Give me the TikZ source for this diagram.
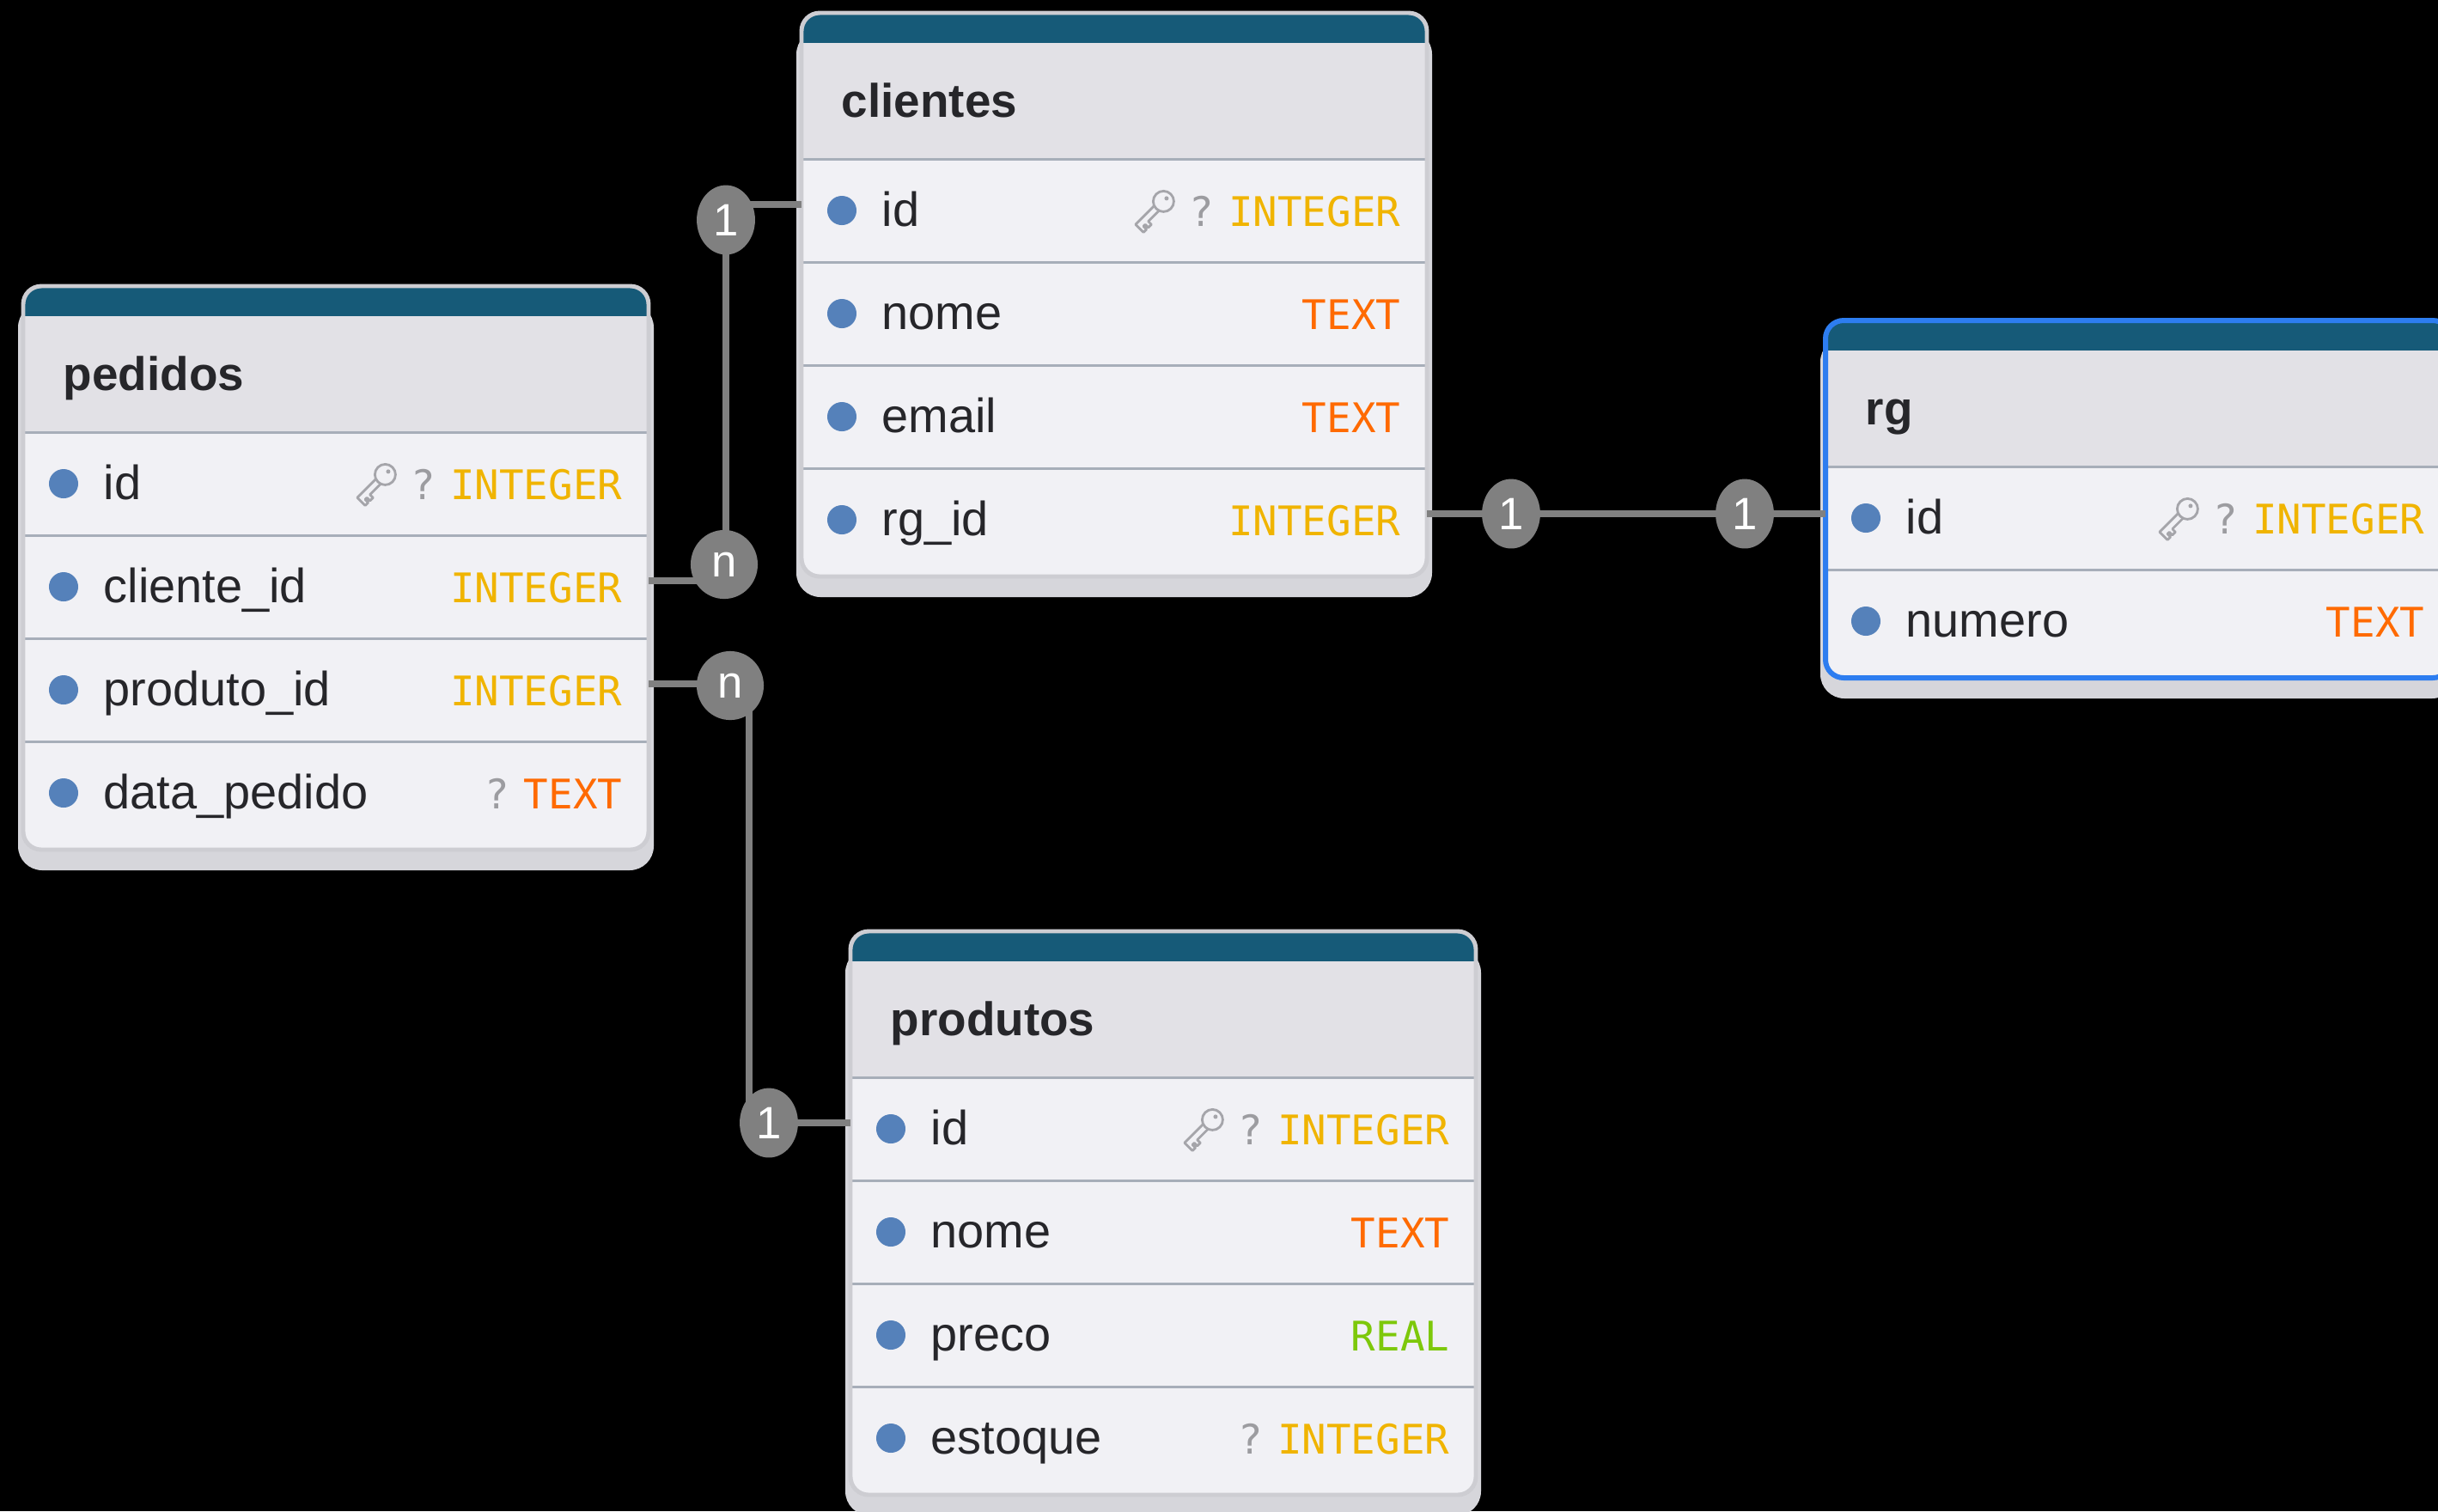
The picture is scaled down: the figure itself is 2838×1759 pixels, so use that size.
\documentclass[tikz,border=0pt]{standalone}
\usepackage{fontspec}
\setmainfont{Liberation Sans}
\newfontfamily\typefont{DejaVu Sans Mono}
\usetikzlibrary{positioning,shapes.geometric}

\definecolor{canvas}{RGB}{0,0,0}
\definecolor{headblue}{RGB}{22,90,120}
\definecolor{titlebg}{RGB}{226,225,230}
\definecolor{rowbg}{RGB}{241,241,245}
\definecolor{sepgray}{RGB}{167,174,185}
\definecolor{bordergray}{RGB}{205,205,210}
\definecolor{shadowgray}{RGB}{214,214,219}
\definecolor{textdark}{RGB}{38,38,42}
\definecolor{dotblue}{RGB}{85,129,186}
\definecolor{intyellow}{RGB}{240,180,0}
\definecolor{textorange}{RGB}{255,106,0}
\definecolor{realgreen}{RGB}{125,200,10}
\definecolor{qgray}{RGB}{156,156,160}
\definecolor{keygray}{RGB}{165,165,170}
\definecolor{linkgray}{RGB}{128,128,128}
\definecolor{selblue}{RGB}{45,125,240}

\tikzset{
  keyicon/.pic={
    \begin{scope}[rotate=225]
      \filldraw[keygray, fill=rowbg, line width=0.8pt, line join=round]
        (-4,4) -- (27,4) -- (27,-9) -- (22,-9) -- (22,-4) -- (19,-4) -- (19,-9)
        -- (14,-9) -- (14,-4) -- (-4,-4) -- cycle;
      \filldraw[keygray, fill=rowbg, line width=0.8pt] (-15,0) circle (12);
      \fill[keygray] (-20,0) circle (2.5);
    \end{scope}
  }
}

% table frame: name, left, top, rows, title
\newcommand{\erdtable}[5]{%
  \pgfmathsetmacro{\erdright}{#2+728}
  \pgfmathsetmacro{\erdbottom}{#3+176+120*#4}
  \fill[shadowgray, rounded corners=8pt] (#2-6,#3+20) rectangle (\erdright+6,\erdbottom+24);
  \fill[rowbg, rounded corners=6pt] (#2,#3) rectangle (\erdright,\erdbottom);
  \fill[headblue, rounded corners=6pt] (#2,#3) rectangle (\erdright,#3+80);
  \fill[titlebg] (#2,#3+35) rectangle (\erdright,#3+170);
  \foreach \k in {1,...,#4}
    \draw[sepgray, line width=0.85pt] (#2,#3+50+120*\k) -- (\erdright,#3+50+120*\k);
  \draw[bordergray, line width=1.4pt, rounded corners=6pt] (#2,#3) rectangle (\erdright,\erdbottom);
  \node[tabletitle] (#1) at (#2+46,#3+121) {#5};
}

% one column: table, field, left, row top, label, type colour, type
\newcommand{\erdfield}[7]{%
  \node[rowcell] (#1-#2) at (#3+364,#4+60) {};
  \node[fielddot] (#1-#2-dot) at (#3+47,#4+60) {};
  \node[fieldname] (#1-#2-name) at (#3+93,#4+78) {#5};
  \node[fieldtype, text=#6] (#1-#2-type) at (#3+698,#4+78) {#7};
}
\newcommand{\nullable}[1]{\node[qmark] (#1-q) at ([xshift=-0.157cm]#1-type.base west) {?};}
\newcommand{\primarykey}[1]{\nullable{#1}\pic at ([xshift=-0.4cm]#1-q.west |- #1.center) {keyicon};}

\begin{document}
\begin{tikzpicture}[x=0.01cm, y=-0.01cm,
  rowcell/.style={minimum width=7.28cm, minimum height=1.2cm, inner sep=0pt, outer sep=0pt},
  fielddot/.style={circle, fill=dotblue, inner sep=0pt, minimum size=0.34cm},
  fieldname/.style={anchor=base west, inner sep=0pt, text=textdark, font=\fontsize{15.9pt}{19pt}\selectfont},
  fieldtype/.style={anchor=base east, inner sep=0pt, font=\typefont\fontsize{13.5pt}{16pt}\selectfont},
  qmark/.style={anchor=base east, inner sep=0pt, text=qgray, font=\typefont\fontsize{13.5pt}{16pt}\selectfont},
  tabletitle/.style={anchor=base west, inner sep=0pt, text=textdark, font=\bfseries\fontsize{15.6pt}{19pt}\selectfont},
  link/.style={draw=linkgray, line width=2.3pt},
  badge/.style={ellipse, fill=linkgray, text=white, inner sep=0pt, font=\fontsize{15pt}{18pt}\selectfont},
  badgeone/.style={badge, minimum width=19.3pt, minimum height=23pt},
  badgemany/.style={badge, minimum width=22.2pt, minimum height=22.8pt}]
  \useasboundingbox (0,0) rectangle (2838,1759);
  \clip (0,0) rectangle (2838,1759);
  \fill[canvas] (0,0) rectangle (2838,1759);

  % pedidos
  \erdtable{pedidos}{27}{333}{4}{pedidos}
  \erdfield{pedidos}{id}{27}{503}{id}{intyellow}{INTEGER}
  \primarykey{pedidos-id}
  \erdfield{pedidos}{clienteid}{27}{623}{cliente\_id}{intyellow}{INTEGER}
  \erdfield{pedidos}{produtoid}{27}{743}{produto\_id}{intyellow}{INTEGER}
  \erdfield{pedidos}{datapedido}{27}{863}{data\_pedido}{textorange}{TEXT}
  \nullable{pedidos-datapedido}

  % clientes
  \erdtable{clientes}{933}{15}{4}{clientes}
  \erdfield{clientes}{id}{933}{185}{id}{intyellow}{INTEGER}
  \primarykey{clientes-id}
  \erdfield{clientes}{nome}{933}{305}{nome}{textorange}{TEXT}
  \erdfield{clientes}{email}{933}{425}{email}{textorange}{TEXT}
  \erdfield{clientes}{rgid}{933}{545}{rg\_id}{intyellow}{INTEGER}

  % rg
  \erdtable{rg}{2125}{373}{2}{rg}
  \erdfield{rg}{id}{2125}{543}{id}{intyellow}{INTEGER}
  \primarykey{rg-id}
  \erdfield{rg}{numero}{2125}{663}{numero}{textorange}{TEXT}
  \draw[selblue, line width=1.7pt, rounded corners=6pt] (2125,373) rectangle (2853,789);

  % produtos
  \erdtable{produtos}{990}{1084}{4}{produtos}
  \erdfield{produtos}{id}{990}{1254}{id}{intyellow}{INTEGER}
  \primarykey{produtos-id}
  \erdfield{produtos}{nome}{990}{1374}{nome}{textorange}{TEXT}
  \erdfield{produtos}{preco}{990}{1494}{preco}{realgreen}{REAL}
  \erdfield{produtos}{estoque}{990}{1614}{estoque}{intyellow}{INTEGER}
  \nullable{produtos-estoque}

  % relations
  \coordinate (cjog) at (845,450);
  \coordinate (pjog) at (872,1050);
  \draw[link] ([yshift=2pt]clientes-id.west) -| (cjog) |- ([yshift=2pt]pedidos-clienteid.east);
  \draw[link] ([yshift=2pt]pedidos-produtoid.east) -| (pjog) |- ([yshift=2pt]produtos-id.west);
  \draw[link] ([yshift=2pt]clientes-rgid.east) -- ([yshift=2pt]clientes-rgid.east -| rg-id.west);

  \node[badgeone] (clientes-one) at (845,256) {1};
  \node[badgemany] (pedidos-many) at (843,657) {n};
  \node[badgemany] (pedidos-many2) at (850,798) {n};
  \node[badgeone] (produtos-one) at (895,1307) {1};
  \node[badgeone] (rgid-one) at (1759,598) {1};
  \node[badgeone] (rg-one) at (2031,598) {1};
\end{tikzpicture}
\end{document}
